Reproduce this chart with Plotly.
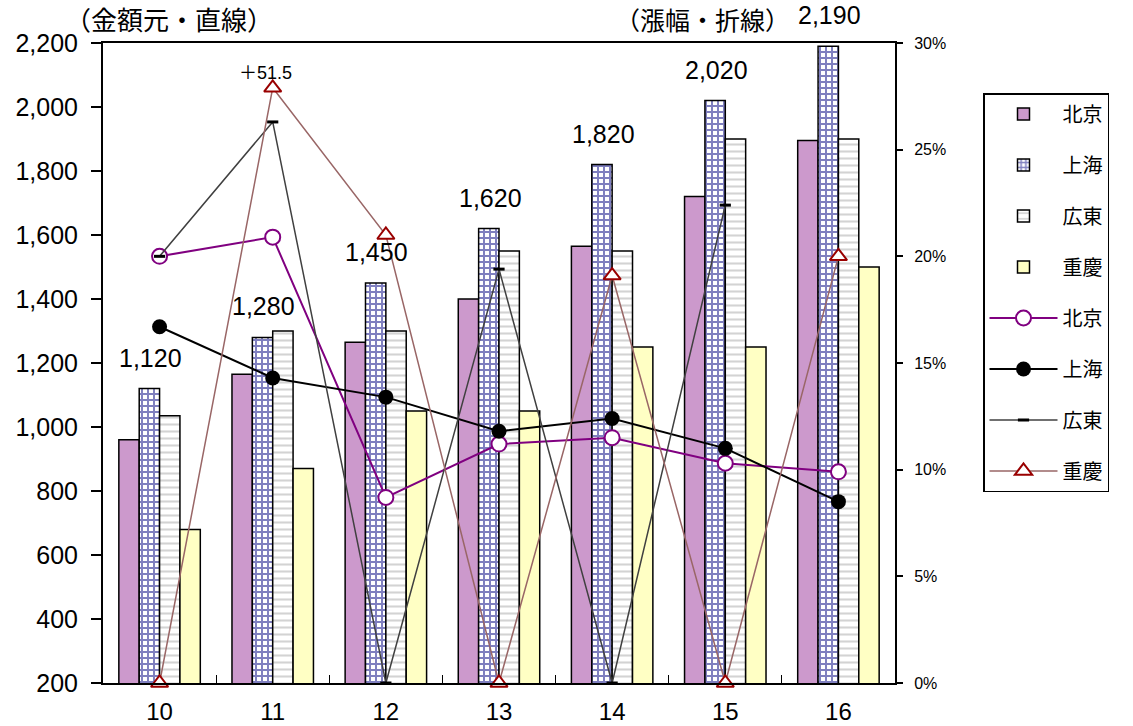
import plotly.graph_objects as go

categories = ["10", "11", "12", "13", "14", "15", "16"]

# Bar values (left axis, 元)
beijing_amt = [960, 1165, 1265, 1400, 1565, 1720, 1895]
shanghai_amt = [1120, 1280, 1450, 1620, 1820, 2020, 2190]
guangdong_amt = [1035, 1300, 1300, 1550, 1550, 1900, 1900]
chongqing_amt = [680, 870, 1050, 1050, 1250, 1250, 1500]

# Line values (right axis, %)
beijing_pct = [20.0, 20.9, 8.7, 11.2, 11.5, 10.3, 9.9]
shanghai_pct = [16.7, 14.3, 13.4, 11.8, 12.4, 11.0, 8.5]
guangdong_pct = [20.0, 26.3, 0.0, 19.4, 0.0, 22.4, None]
chongqing_pct = [0.0, 27.9, 21.0, 0.0, 19.1, 0.0, 20.0]

shanghai_labels = ["1,120", "1,280", "1,450", "1,620", "1,820", "2,020", "2,190"]
cq_note = "＋51.5"

FONT = "Liberation Sans, Arial, Noto Sans CJK JP, sans-serif"
CJK = "Noto Sans CJK JP, sans-serif"

fig = go.Figure()

bar_line = dict(color="black", width=1.5)
fig.add_trace(go.Bar(x=categories, y=beijing_amt, name="北京", legendgroup="a",
                     marker=dict(color="#CC99CC", line=bar_line)))
fig.add_trace(go.Bar(x=categories, y=shanghai_amt, name="上海", legendgroup="b",
                     marker=dict(color="white", line=bar_line,
                                 pattern=dict(shape="+", fgcolor="#000080", bgcolor="white",
                                              size=6, solidity=0.55))))
fig.add_trace(go.Bar(x=categories, y=guangdong_amt, name="広東", legendgroup="c",
                     marker=dict(color="white", line=bar_line,
                                 pattern=dict(shape="-", fgcolor="#A8A8A8", bgcolor="white",
                                              size=7, solidity=0.3))))
fig.add_trace(go.Bar(x=categories, y=chongqing_amt, name="重慶", legendgroup="d",
                     marker=dict(color="#FFFFC4", line=bar_line)))

fig.add_trace(go.Scatter(x=categories, y=beijing_pct, name="北京", yaxis="y2", legendgroup="e",
                         mode="lines+markers", cliponaxis=False,
                         line=dict(color="#800080", width=2),
                         marker=dict(symbol="circle", size=15, color="white",
                                     line=dict(color="#800080", width=2))))
fig.add_trace(go.Scatter(x=categories, y=shanghai_pct, name="上海", yaxis="y2", legendgroup="f",
                         mode="lines+markers", cliponaxis=False,
                         line=dict(color="black", width=2),
                         marker=dict(symbol="circle", size=15, color="black")))
fig.add_trace(go.Scatter(x=categories, y=guangdong_pct, name="広東", yaxis="y2", legendgroup="g",
                         mode="lines+markers", cliponaxis=False,
                         line=dict(color="#404040", width=1.5),
                         marker=dict(symbol="line-ew", size=8,
                                     line=dict(color="black", width=3))))
fig.add_trace(go.Scatter(x=categories, y=chongqing_pct, name="重慶", yaxis="y2", legendgroup="h",
                         mode="lines+markers", cliponaxis=False,
                         line=dict(color="#996666", width=1.5),
                         marker=dict(symbol="triangle-up", size=15, color="white",
                                     line=dict(color="#990000", width=2))))

# plot area target: x 103..895, y 43..683
pw, ph = 792, 640
def px(xp):
    return (xp - 103) / pw
def py(yp):
    return (683 - yp) / ph

annotations = []
for i, (val, lab) in enumerate(zip(shanghai_amt, shanghai_labels)):
    annotations.append(dict(x=i, y=val, xref="x", yref="y", text=lab, showarrow=False,
                            xshift=-9, yshift=31, font=dict(size=25, family=FONT, color="black")))
annotations.append(dict(x=1, y=chongqing_pct[1], xref="x", yref="y2", text=cq_note,
                        showarrow=False, xshift=-7, yshift=15,
                        font=dict(size=18, family=FONT, color="black")))
annotations.append(dict(x=px(169), y=py(19), xref="paper", yref="paper", text="（金額元・直線）",
                        xanchor="center", yanchor="middle",
                        showarrow=False, font=dict(size=26, family=CJK, color="black")))
annotations.append(dict(x=px(702), y=py(19), xref="paper", yref="paper", text="（漲幅・折線）",
                        xanchor="center", yanchor="middle",
                        showarrow=False, font=dict(size=25, family=CJK, color="black")))

fig.update_layout(
    width=1133, height=726,
    margin=dict(l=103, r=1133 - 103 - pw, t=43, b=726 - 43 - ph),
    paper_bgcolor="white", plot_bgcolor="white",
    barmode="group", bargap=0.28, bargroupgap=0,
    font=dict(family=FONT, size=18, color="black"),
    xaxis=dict(type="category", range=[-0.5, 6.5], showline=True, linecolor="black",
               linewidth=2, mirror=True,
               ticks="inside", tickson="boundaries", ticklen=8, tickcolor="black",
               ticklabelstandoff=6,
               tickfont=dict(size=24, family=FONT), showgrid=False, automargin=False),
    yaxis=dict(range=[200, 2200], dtick=200, tickformat=",", showline=True,
               linecolor="black", linewidth=2, ticks="outside", ticklen=10,
               tickcolor="black", tickwidth=2, showgrid=False, zeroline=False,
               ticklabelstandoff=8,
               tickfont=dict(size=25, family=FONT), automargin=False),
    yaxis2=dict(range=[0, 30], dtick=5, ticksuffix="%", overlaying="y", side="right",
                showline=True, linecolor="black", linewidth=2, ticks="outside",
                ticklen=6, tickcolor="black", tickwidth=1.5, showgrid=False,
                ticklabelstandoff=8,
                zeroline=False, tickfont=dict(size=16, family=FONT), automargin=False),
    legend=dict(x=px(983), xanchor="left", y=py(93), yanchor="top",
                bordercolor="black", borderwidth=1.5, bgcolor="white",
                traceorder="grouped", tracegroupgap=22, itemwidth=68,
                font=dict(size=20, family=CJK)),
    showlegend=True,
    annotations=annotations,
)

fig.write_html("out.html", config={"displayModeBar": False},
               post_script="document.body.style.margin='0px';")
